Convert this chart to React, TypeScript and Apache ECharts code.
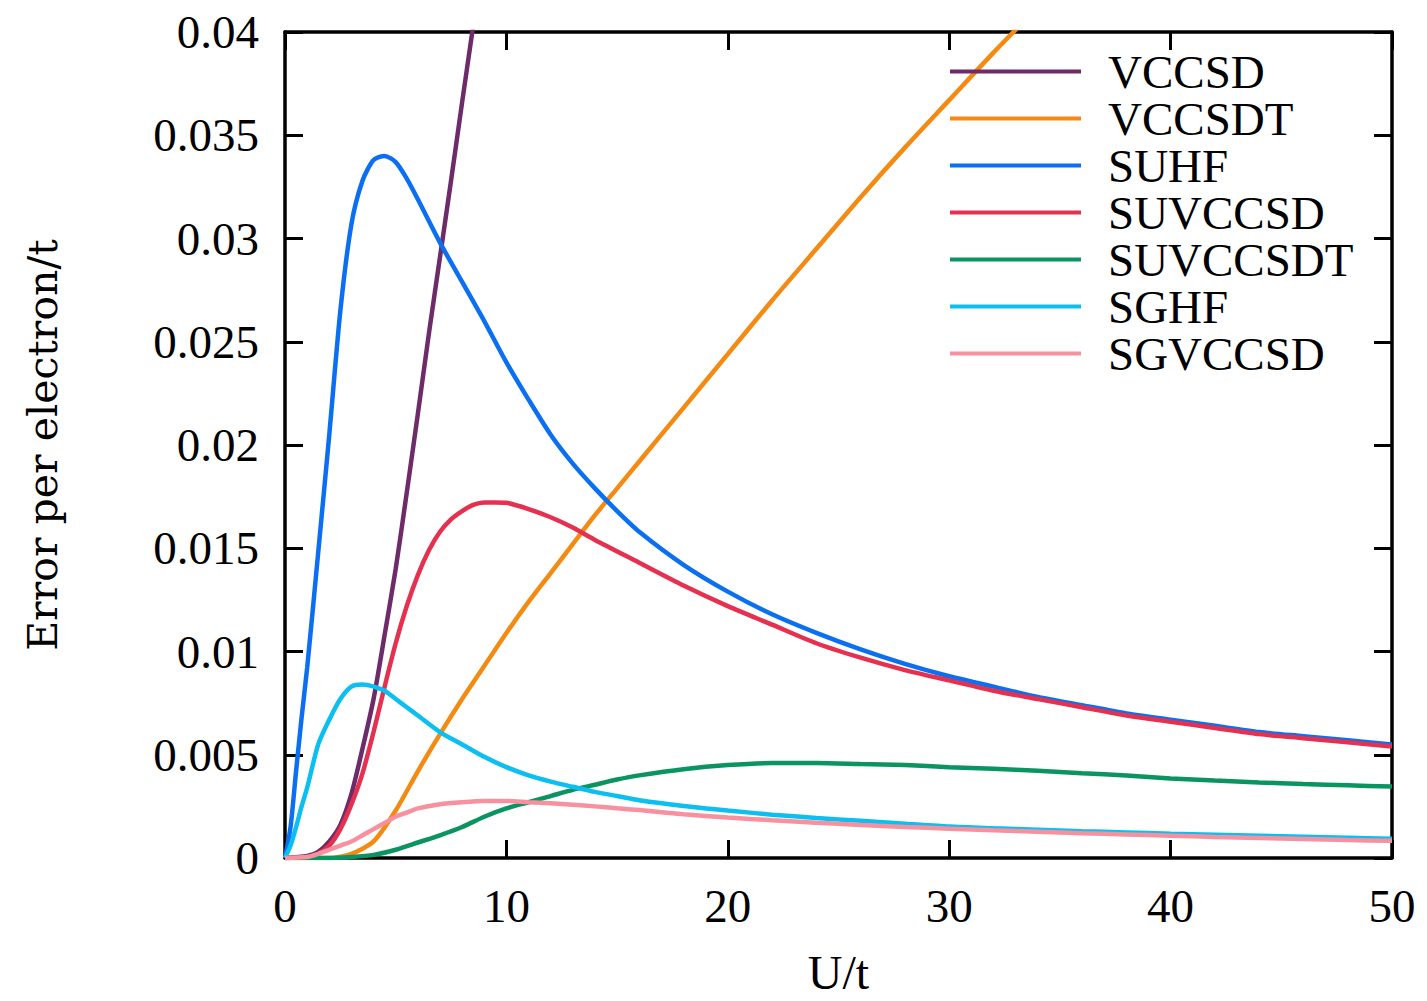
import React, { useEffect, useRef } from "react";
import * as echarts from "echarts";

type P = [number, number];

const seriesNames = ["VCCSD", "VCCSDT", "SUHF", "SUVCCSD", "SUVCCSDT", "SGHF", "SGVCCSD"];
const seriesColors = ["#6e2b69", "#f58a12", "#0b6ff2", "#e6304f", "#0a9461", "#0bbff0", "#f7919f"];

const VCCSD: P[] = [
  [0, 0], [1, 0.0001], [1.5, 0.0003], [2, 0.0008], [2.5, 0.0016], [3, 0.0031], [3.5, 0.0053],
  [4, 0.0077], [4.5, 0.0108], [5, 0.014], [5.5, 0.0177], [6, 0.0215], [6.5, 0.0254], [7, 0.0291],
  [7.5, 0.0328], [8, 0.0366], [8.5, 0.0403], [9, 0.044],
];

const VCCSDT: P[] = [
  [0, 0], [2, 0], [3, 0.0002], [4, 0.0008], [5, 0.0023], [6, 0.0042], [7, 0.006], [8, 0.0077],
  [9, 0.0093], [10, 0.0109], [11, 0.0124], [12, 0.0138], [13, 0.0152], [14, 0.0166], [15, 0.0179],
  [16, 0.0192], [18, 0.0218], [20, 0.0244], [22, 0.027], [24, 0.0295], [26, 0.032], [28, 0.0344],
  [30, 0.0367], [32, 0.039], [34, 0.0412],
];

const SUHF: P[] = [
  [0, 0], [0.25, 0.0015], [0.5, 0.0042], [0.75, 0.0068], [1, 0.0092], [1.5, 0.0148], [2, 0.0205],
  [2.5, 0.0265], [3, 0.0307], [3.5, 0.0328], [4, 0.0338], [4.5, 0.034], [5, 0.0337], [5.5, 0.0329],
  [6, 0.0319], [7, 0.0298], [8, 0.0279], [9, 0.026], [10, 0.024], [11, 0.0222], [12, 0.0205],
  [13, 0.0191], [14, 0.0179], [15, 0.0168], [16, 0.0158], [18, 0.0142], [20, 0.0129], [22, 0.0118],
  [24, 0.0109], [26, 0.0101], [28, 0.0094], [30, 0.0088], [32, 0.0083], [34, 0.0078], [36, 0.0074],
  [38, 0.007], [40, 0.0067], [42, 0.0064], [44, 0.0061], [46, 0.0059], [48, 0.0057], [50, 0.0055],
];

const SUVCCSD: P[] = [
  [0, 0], [1, 0.00005], [1.5, 0.0002], [2, 0.0006], [2.5, 0.0014], [3, 0.0026], [3.5, 0.0041],
  [4, 0.0061], [4.5, 0.0083], [5, 0.0104], [5.5, 0.0122], [6, 0.0137], [6.5, 0.0149], [7, 0.0158],
  [7.5, 0.0164], [8, 0.0168], [8.5, 0.0171], [9, 0.01722], [9.5, 0.01722], [10, 0.0172], [11, 0.0169],
  [12, 0.0165], [13, 0.016], [14, 0.0154], [16, 0.0143], [18, 0.0132], [20, 0.0122], [22, 0.0113],
  [24, 0.0104], [26, 0.0097], [28, 0.0091], [30, 0.0086], [32, 0.0081], [34, 0.0077], [36, 0.0073],
  [38, 0.0069], [40, 0.0066], [42, 0.0063], [44, 0.006], [46, 0.0058], [48, 0.0056], [50, 0.0054],
];

const SUVCCSDT: P[] = [
  [0, 0], [2, 0], [3, 0.00005], [4, 0.00015], [5, 0.0004], [6, 0.00075], [7, 0.0011], [8, 0.0015],
  [9, 0.002], [10, 0.0024], [11, 0.0027], [12, 0.003], [13, 0.0033], [14, 0.00355], [15, 0.0038],
  [16, 0.004], [18, 0.0043], [20, 0.0045], [22, 0.0046], [24, 0.0046], [26, 0.00455], [28, 0.0045],
  [30, 0.0044], [32, 0.00432], [34, 0.00422], [36, 0.00411], [38, 0.004], [40, 0.00385], [42, 0.00375],
  [44, 0.00366], [46, 0.00358], [48, 0.00352], [50, 0.00346],
];

const SGHF: P[] = [
  [0, 0], [0.25, 0.0006], [0.5, 0.0015], [0.75, 0.0025], [1, 0.0034], [1.5, 0.0055], [2, 0.0067],
  [2.5, 0.0077], [3, 0.0083], [3.5, 0.0084], [4, 0.0083], [4.5, 0.0081], [5, 0.0077], [5.5, 0.0073],
  [6, 0.0069], [7, 0.0061], [8, 0.0055], [9, 0.0049], [10, 0.0044], [11, 0.004], [12, 0.0037],
  [13, 0.00345], [14, 0.0032], [15, 0.003], [16, 0.0028], [18, 0.00252], [20, 0.0023], [22, 0.0021],
  [24, 0.00194], [26, 0.0018], [28, 0.00166], [30, 0.00152], [32, 0.00144], [34, 0.00137], [36, 0.0013],
  [38, 0.00124], [40, 0.00118], [42, 0.00113], [44, 0.00108], [46, 0.00103], [48, 0.00098], [50, 0.00093],
];

const SGVCCSD: P[] = [
  [0, 0], [1, 0.00005], [1.5, 0.0002], [2, 0.0004], [2.5, 0.0006], [3, 0.0008], [3.5, 0.0011],
  [4, 0.0014], [4.5, 0.0017], [5, 0.002], [5.5, 0.0022], [6, 0.0024], [7, 0.0026], [8, 0.0027],
  [9, 0.00276], [10, 0.00276], [11, 0.0027], [12, 0.00265], [13, 0.00258], [14, 0.0025], [15, 0.00241],
  [16, 0.00232], [18, 0.00212], [20, 0.00196], [22, 0.00183], [24, 0.00171], [26, 0.0016], [28, 0.0015],
  [30, 0.00142], [32, 0.00134], [34, 0.00127], [36, 0.0012], [38, 0.00114], [40, 0.00108], [42, 0.00102],
  [44, 0.00097], [46, 0.00092], [48, 0.00087], [50, 0.00083],
];

const seriesData: P[][] = [VCCSD, VCCSDT, SUHF, SUVCCSD, SUVCCSDT, SGHF, SGVCCSD];

const yTickLabels = ["0", "0.005", "0.01", "0.015", "0.02", "0.025", "0.03", "0.035", "0.04"];
const xTickLabels = ["0", "10", "20", "30", "40", "50"];

const FONT = "Liberation Serif";

export default function App() {
  const ref = useRef<HTMLDivElement>(null);

  useEffect(() => {
    if (!ref.current) return;
    const chart = echarts.init(ref.current, null, { renderer: "svg" });

    const axisLine = { show: true, onZero: false, lineStyle: { color: "#000", width: 3.5 } };
    const axisTick = { show: true, inside: true, length: 18, lineStyle: { color: "#000", width: 3 } };

    const option: any = {
      animation: false,
      backgroundColor: "#fff",
      grid: { left: 285, top: 32, width: 1107, height: 827, containLabel: false },
      legend: {
        orient: "vertical",
        left: 945,
        top: 43,
        itemWidth: 131,
        itemHeight: 4,
        itemGap: 0,
        icon: "rect",
        data: seriesNames,
        textStyle: {
          fontFamily: FONT,
          fontSize: 47,
          color: "#000",
          lineHeight: 47,
          padding: [0, 0, 0, 22],
        },
      },
      xAxis: [
        {
          type: "value",
          min: 0,
          max: 50,
          interval: 10,
          position: "bottom",
          axisLine,
          axisTick,
          splitLine: { show: false },
          axisLabel: {
            margin: 24,
            fontFamily: FONT,
            fontSize: 47,
            color: "#000",
            formatter: (v: number) => xTickLabels[Math.round(v / 10)],
          },
          name: "U/t",
          nameLocation: "middle",
          nameGap: 90,
          nameTextStyle: { fontFamily: FONT, fontSize: 48, color: "#000" },
        },
        {
          type: "value",
          min: 0,
          max: 50,
          interval: 10,
          position: "top",
          axisLine,
          axisTick,
          splitLine: { show: false },
          axisLabel: { show: false },
        },
      ],
      yAxis: [
        {
          type: "value",
          min: 0,
          max: 0.04,
          interval: 0.005,
          position: "left",
          axisLine,
          axisTick,
          splitLine: { show: false },
          axisLabel: {
            margin: 26,
            fontFamily: FONT,
            fontSize: 47,
            color: "#000",
            formatter: (v: number) => yTickLabels[Math.round(v / 0.005)],
          },
          name: "Error per electron/t",
          nameLocation: "middle",
          nameGap: 222,
          nameRotate: 90,
          nameTextStyle: { fontFamily: "DejaVu Serif", fontSize: 41, color: "#000" },
        },
        {
          type: "value",
          min: 0,
          max: 0.04,
          interval: 0.005,
          position: "right",
          axisLine,
          axisTick,
          splitLine: { show: false },
          axisLabel: { show: false },
        },
      ],
      series: seriesNames.map((name, i) => ({
        name,
        type: "line",
        xAxisIndex: 0,
        yAxisIndex: 0,
        data: seriesData[i],
        showSymbol: false,
        smooth: 0.25,
        clip: true,
        color: seriesColors[i],
        lineStyle: { color: seriesColors[i], width: 4.5 },
        z: 2 + i,
      })),
    };

    chart.setOption(option);
    return () => chart.dispose();
  }, []);

  return (
    <div
      ref={ref}
      style={{ position: "absolute", left: 0, top: 0, width: 1427, height: 1001, background: "#fff" }}
    />
  );
}
